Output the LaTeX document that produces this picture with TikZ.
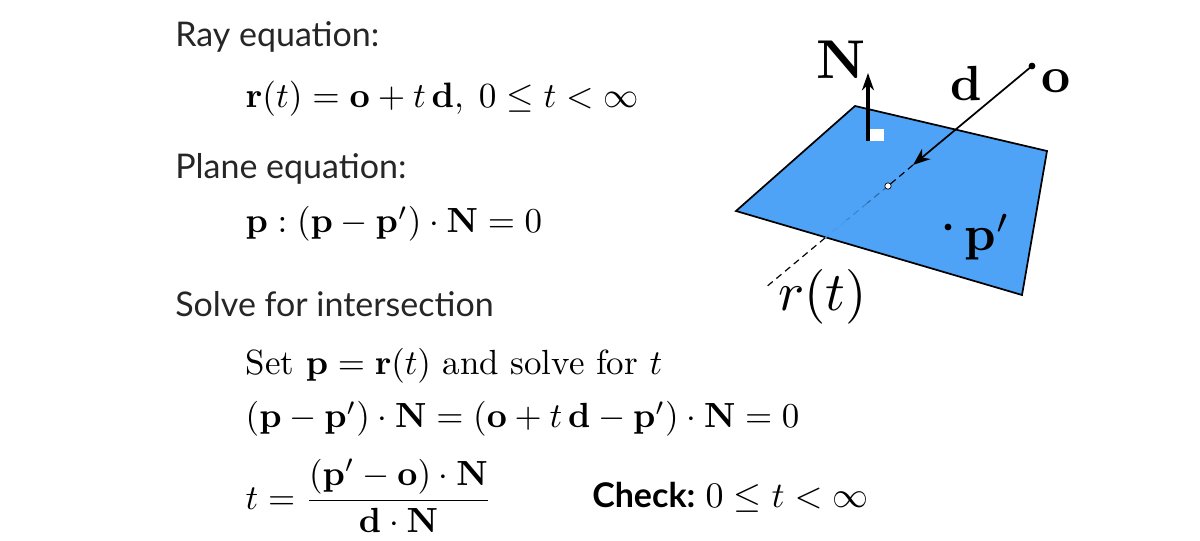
\documentclass[tikz,border=0pt]{standalone}
\usepackage[no-math]{fontspec}
\setmainfont{Lato}
\newfontfamily\cmtext{Latin Modern Roman}
\usetikzlibrary{arrows.meta,calc}
\definecolor{planeblue}{HTML}{4FA3F7}
\definecolor{fadeA}{HTML}{2F6BA6}
\definecolor{fadeB}{HTML}{3F86CC}
\definecolor{fadeC}{HTML}{4A9AEB}
\tikzset{
  x=0.75pt,y=-0.75pt,
  head/.style={font=\fontsize{25.5}{30}\selectfont,anchor=base west,inner sep=0pt,text=black!85},
  eq/.style={scale=2.62,anchor=base west,inner sep=0pt},
  lab/.style={anchor=base west,inner sep=0pt},
  edgeline/.style={draw=black,line width=1.3pt,line join=miter},
  raydash/.style={line width=0.9pt,dash pattern=on 5pt off 3.5pt},
}
\begin{document}
\begin{tikzpicture}
\useasboundingbox (0,0) rectangle (1200,541);
% text
\node[head] (h1) at (175,47) {Ray equation:};
\node[eq,scale=1.01] (e1) at (245,108) {$\mathbf{r}(t)=\mathbf{o}+t\,\mathbf{d},\ 0\le t<\infty$};
\node[head] (h2) at (175,179) {Plane equation:};
\node[eq] (e2) at (245,233) {$\mathbf{p}:(\mathbf{p}-\mathbf{p}')\cdot\mathbf{N}=0$};
\node[head] (h3) at (175,317) {Solve for intersection};
\node[eq] (e3) at (245,375) {\cmtext Set $\mathbf{p}=\mathbf{r}(t)$ and solve for $t$};
\node[eq] (e4) at (245,428) {$(\mathbf{p}-\mathbf{p}')\cdot\mathbf{N}=(\mathbf{o}+t\,\mathbf{d}-\mathbf{p}')\cdot\mathbf{N}=0$};
\node[eq] (e5) at (245,509) {$\displaystyle t=\frac{(\mathbf{p}'-\mathbf{o})\cdot\mathbf{N}}{\mathbf{d}\cdot\mathbf{N}}$};
\node[head,text=black,font=\bfseries\fontsize{25.5}{30}\selectfont] (e6) at (592,508) {Check:};
\node[eq,scale=1.03] (e7) at (705,508) {$0\le t<\infty$};
% plane
\coordinate (pa) at (855,106);
\coordinate (pb) at (1047,151);
\coordinate (pc) at (1022,295);
\coordinate (pd) at (736,211);
\coordinate (o) at (1032,66);
\coordinate (dtip) at (913,165);
\coordinate (hit) at (888,186);
\coordinate (exit) at (825,238);
\coordinate (far) at (765,288);
\coordinate (nbase) at (868,141);
\coordinate (ntip) at (868,73);
\coordinate (sq1) at (870,129);
\coordinate (sq2) at (884,141);
\coordinate (pp) at (948,227);
\fill[planeblue] (pa)--(pb)--(pc)--(pd)--cycle;
\draw[edgeline] (pa)--(pb)--(pc)--(pd)--cycle;
\draw[raydash,fadeA] (hit)--($(hit)!0.33!(exit)$);
\draw[raydash,fadeB] ($(hit)!0.33!(exit)$)--($(hit)!0.66!(exit)$);
\draw[raydash,fadeC] ($(hit)!0.66!(exit)$)--(exit);
\draw[raydash,black] (exit)--(far);
\draw[raydash,black] (dtip)--(hit);
\fill[white] (sq1) rectangle (sq2);
\draw[-{Stealth[length=13pt,width=9pt]},black,line width=3pt] (nbase)--(ntip);
\draw[{Stealth[length=13pt,width=10pt]}-,black,line width=1.3pt] (dtip)--(o);
\fill[black] (o) circle (3.4);
\fill[black] (pp) circle (3.4);
\filldraw[fill=white,draw=black,line width=0.5pt] (hit) circle (3.2);
\node[lab,scale=4.1] (nl) at (815,79) {$\mathbf{N}$};
\node[lab,scale=3.7] (dl) at (950,101) {$\mathbf{d}$};
\node[lab,scale=3.8] (ol) at (1040,93) {$\mathbf{o}$};
\node[lab,scale=3.7] (pl) at (964,251) {$\mathbf{p}'$};
\node[lab,scale=4.1] (rl) at (777,311) {$r(t)$};
\end{tikzpicture}
\end{document}
